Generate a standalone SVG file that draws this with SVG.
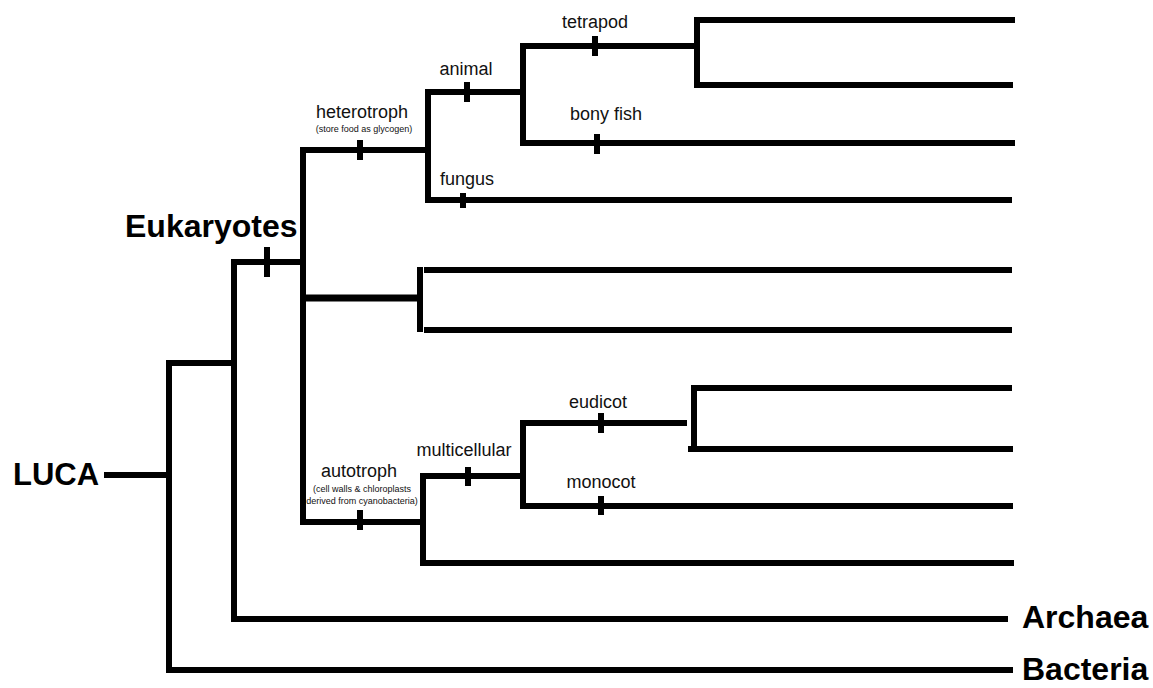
<svg xmlns="http://www.w3.org/2000/svg" width="1153" height="688" viewBox="0 0 1153 688">
<style>
.ln{fill:none;stroke:#000;stroke-width:6;stroke-linejoin:miter;stroke-linecap:butt}
.tk{fill:none;stroke:#000;stroke-width:6}
.lb{font-family:"Liberation Sans",Arial,sans-serif;font-size:18px;fill:#111;text-anchor:middle}
.sm{font-family:"Liberation Sans",Arial,sans-serif;font-size:9px;fill:#111;text-anchor:middle}
.big{font-family:"Liberation Sans",Arial,sans-serif;font-size:32px;font-weight:bold;fill:#000}
</style>
<rect width="1153" height="688" fill="#fff"/>
<g id="connectors">
<path class="ln" d="M104 475 H169"/>
<path class="ln" d="M234 363 H169 V670 H1013"/>
<path class="ln" d="M300 262 H234 V619 H1008"/>
<path class="ln" d="M428 150 H303 V522 H423"/>
<path class="ln" d="M303 298 H420" style="stroke-width:7"/>
<path class="ln" d="M420 267 V332"/>
<path class="ln" d="M424 270 H1012"/>
<path class="ln" d="M424 330 H1012"/>
<path class="ln" d="M523 92 H428 V200 H1012"/>
<path class="ln" d="M697 46 H523 V143 H1015"/>
<path class="ln" d="M1015 20 H697 V85 H1013"/>
<path class="ln" d="M523 476 H423 V563 H1014"/>
<path class="ln" d="M687 423 H523 V506 H1013"/>
<path class="ln" d="M1012 388 H694 V449"/>
<path class="ln" d="M688 449 H1013"/>
</g>
<g id="ticks">
<path class="tk" d="M267 247 V277"/>
<path class="tk" d="M360 140 V160"/>
<path class="tk" d="M463 193 V208"/>
<path class="tk" d="M467 82 V102"/>
<path class="tk" d="M595 36 V56"/>
<path class="tk" d="M597 134 V154"/>
<path class="tk" d="M360 510 V530"/>
<path class="tk" d="M468 467 V486"/>
<path class="tk" d="M601 413 V433"/>
<path class="tk" d="M601 496 V515"/>
</g>
<g id="luca"><text class="big" x="13" y="485" style="font-size:31px">LUCA</text></g>
<g id="eukaryotes"><text class="big" x="125" y="237">Eukaryotes</text></g>
<g id="archaea"><text class="big" x="1022" y="628">Archaea</text></g>
<g id="bacteria"><text class="big" x="1022" y="680">Bacteria</text></g>
<g id="heterotroph">
<text class="lb" x="362" y="118">heterotroph</text>
<text class="sm" x="364" y="132">(store food as glycogen)</text>
</g>
<g id="animal"><text class="lb" x="466" y="75">animal</text></g>
<g id="tetrapod"><text class="lb" x="595" y="28">tetrapod</text></g>
<g id="bonyfish"><text class="lb" x="606" y="120">bony fish</text></g>
<g id="fungus"><text class="lb" x="467" y="185">fungus</text></g>
<g id="autotroph">
<text class="lb" x="359" y="477">autotroph</text>
<text class="sm" x="362" y="492">(cell walls &amp; chloroplasts</text>
<text class="sm" x="362" y="504">derived from cyanobacteria)</text>
</g>
<g id="multicellular"><text class="lb" x="464" y="456">multicellular</text></g>
<g id="eudicot"><text class="lb" x="598" y="408">eudicot</text></g>
<g id="monocot"><text class="lb" x="601" y="488">monocot</text></g>
</svg>
